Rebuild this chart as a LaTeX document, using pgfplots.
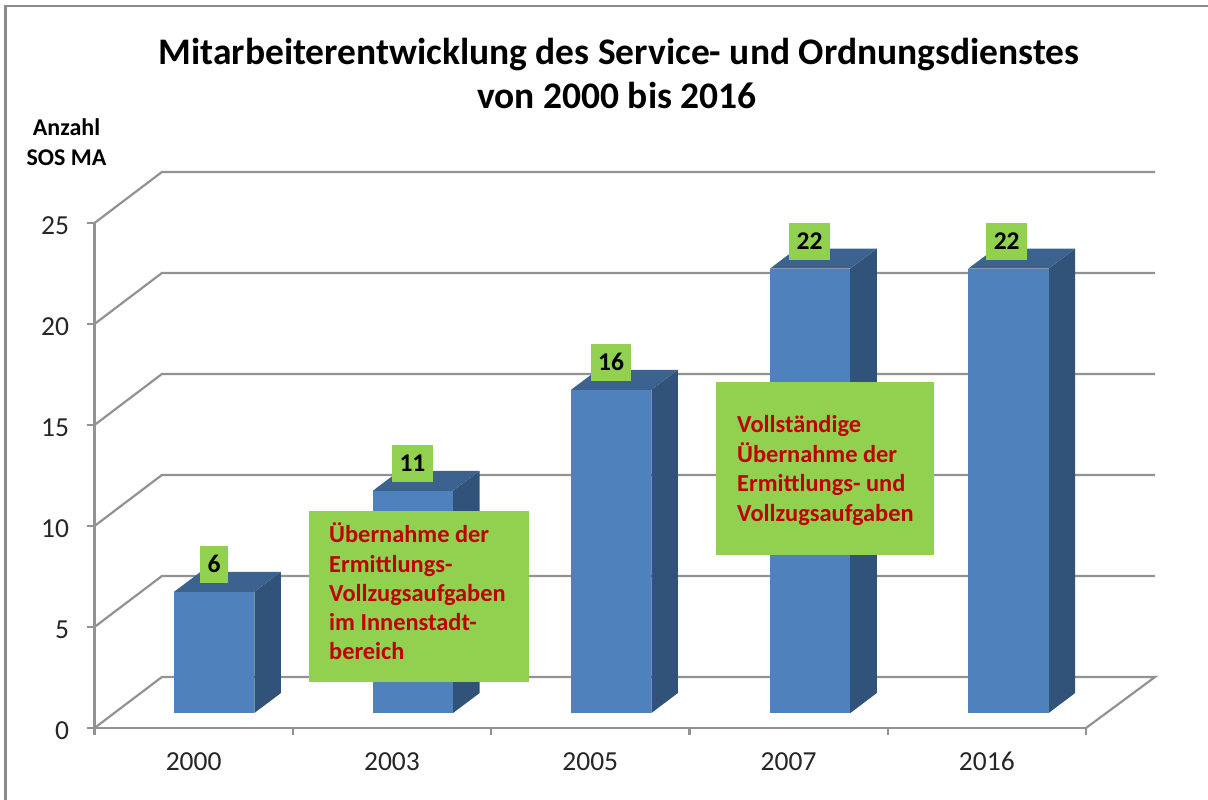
\documentclass[border=0pt]{standalone}
\usepackage{pgfplots}
\pgfplotsset{compat=1.18}
\usepackage{fontspec}
\setmainfont{Carlito}
\definecolor{gridc}{HTML}{929292}
\definecolor{framec}{HTML}{8A8A8A}
\definecolor{front}{HTML}{4F81BD}
\definecolor{topc}{HTML}{3C628F}
\definecolor{side}{HTML}{325379}
\definecolor{boxg}{HTML}{92D050}
\definecolor{redt}{HTML}{C00000}
\definecolor{ticktext}{HTML}{262626}
\newcommand{\fsz}[1]{\fontsize{#1pt}{#1pt}\selectfont}
\begin{document}
\begin{tikzpicture}[x=1pt,y=1pt]
\path[use as bounding box] (0,0) rectangle (1208,800);
\clip (0,0) rectangle (1208,800);
\fill[white] (0,0) rectangle (1208,800);
\node[anchor=base west,inner sep=0pt,text=ticktext] at (18,802) {\fsz{17}Abbildung};
\draw[framec,line width=2.6pt] (5.5,0) -- (5.5,794) -- (1208,794);
\node[anchor=base,inner sep=0pt] at (619,735) {\fsz{37.5}\bfseries Mitarbeiterentwicklung des Service- und Ordnungsdienstes};
\node[anchor=base,inner sep=0pt] at (617,691) {\fsz{37.5}\bfseries von 2000 bis 2016};
\node[anchor=base,inner sep=0pt] at (66.5,664) {\fsz{24}\bfseries Anzahl};
\node[anchor=base,inner sep=0pt] at (66.5,634) {\fsz{24}\bfseries SOS MA};
\begin{axis}[
  at={(94.5pt,72pt)}, anchor=origin,
  width=991.5pt, height=505pt, scale only axis,
  xmin=0, xmax=5, ymin=0, ymax=25,
  axis lines*=left, clip=false,
  axis line style={gridc,line width=2.2pt,-},
  xtick={0,1,2,3,4,5}, xticklabels={},
  extra x ticks={0.5,1.5,2.5,3.5,4.5},
  extra x tick labels={2000,2003,2005,2007,2016},
  extra x tick style={major tick length=0pt},
  ytick={0,5,10,15,20,25},
  major tick length=7pt,
  tick style={gridc,line width=2.2pt},
  tick align=outside,
  /pgf/number format/assume math mode=true,
  tick label style={font=\fsz{27.5},text=ticktext},
  xticklabel style={yshift=-21pt,text height=18pt,text depth=0pt},
  yticklabel style={xshift=-15pt,yshift=-2.5pt},
]
% back wall and floor
\pgfplotsset{wall/.style={gridc,line width=2.2pt,no markers,line join=miter}}
\addplot[wall] coordinates {(0,0)(0.340,2.525)(5.348,2.525)(5,0)};
\addplot[wall] coordinates {(0,5)(0.340,7.525)(5.348,7.525)};
\addplot[wall] coordinates {(0,10)(0.340,12.525)(5.348,12.525)};
\addplot[wall] coordinates {(0,15)(0.340,17.525)(5.348,17.525)};
\addplot[wall] coordinates {(0,20)(0.340,22.525)(5.348,22.525)};
\addplot[wall] coordinates {(0,25)(0.340,27.525)(5.348,27.525)};
\pgfplotsset{
  ff/.style={draw=none,fill=front,no markers},
  tf/.style={draw=none,fill=topc,no markers},
  sf/.style={draw=none,fill=side,no markers}}
% 2000: 6
\addplot[sf] coordinates {(0.806,0.74)(0.94,1.73)(0.94,7.73)(0.806,6.74)} -- cycle;
\addplot[tf] coordinates {(0.401,6.74)(0.806,6.74)(0.94,7.73)(0.535,7.73)} -- cycle;
\addplot[ff] coordinates {(0.401,0.74)(0.806,0.74)(0.806,6.74)(0.401,6.74)} -- cycle;
% 2003: 11
\addplot[sf] coordinates {(1.808,0.74)(1.942,1.73)(1.942,12.73)(1.808,11.74)} -- cycle;
\addplot[tf] coordinates {(1.403,11.74)(1.808,11.74)(1.942,12.73)(1.537,12.73)} -- cycle;
\addplot[ff] coordinates {(1.403,0.74)(1.808,0.74)(1.808,11.74)(1.403,11.74)} -- cycle;
% 2005: 16
\addplot[sf] coordinates {(2.808,0.74)(2.942,1.73)(2.942,17.73)(2.808,16.74)} -- cycle;
\addplot[tf] coordinates {(2.403,16.74)(2.808,16.74)(2.942,17.73)(2.537,17.73)} -- cycle;
\addplot[ff] coordinates {(2.403,0.74)(2.808,0.74)(2.808,16.74)(2.403,16.74)} -- cycle;
% 2007: 22
\addplot[sf] coordinates {(3.811,0.74)(3.945,1.73)(3.945,23.73)(3.811,22.74)} -- cycle;
\addplot[tf] coordinates {(3.406,22.74)(3.811,22.74)(3.945,23.73)(3.540,23.73)} -- cycle;
\addplot[ff] coordinates {(3.406,0.74)(3.811,0.74)(3.811,22.74)(3.406,22.74)} -- cycle;
% 2016: 22
\addplot[sf] coordinates {(4.811,0.74)(4.945,1.73)(4.945,23.73)(4.811,22.74)} -- cycle;
\addplot[tf] coordinates {(4.406,22.74)(4.811,22.74)(4.945,23.73)(4.540,23.73)} -- cycle;
\addplot[ff] coordinates {(4.406,0.74)(4.811,0.74)(4.811,22.74)(4.406,22.74)} -- cycle;
% value labels
\addplot[draw=none,no markers,point meta=explicit symbolic,
  nodes near coords,
  every node near coord/.append style={anchor=center,fill=boxg,text=black,
    inner xsep=7.5pt,inner ysep=0pt,minimum height=37pt,text height=16pt,text depth=0pt,font=\fsz{25.5}\bfseries}]
  coordinates {(0.6026,8.09)[6] (1.6036,13.09)[11] (2.605,18.09)[16] (3.606,24.09)[22] (4.60,24.09)[22]};
\end{axis}
\fill[boxg] (308.7,118.3) rectangle (529.3,288.7);
\fill[boxg] (716,245) rectangle (934,418);
\begin{scope}[every node/.style={anchor=base west,inner sep=0pt,text=redt,font=\fsz{24.4}\bfseries}]
\node at (329,257) {Übernahme der};
\node at (329,227.5) {Ermittlungs-};
\node at (329,198) {Vollzugsaufgaben};
\node at (329,169) {im Innenstadt-};
\node at (329,140) {bereich};
\node at (737,367) {Vollständige};
\node at (737,337.5) {Übernahme der};
\node at (737,308) {Ermittlungs- und};
\node at (737,278.5) {Vollzugsaufgaben};
\end{scope}
\end{tikzpicture}
\end{document}
